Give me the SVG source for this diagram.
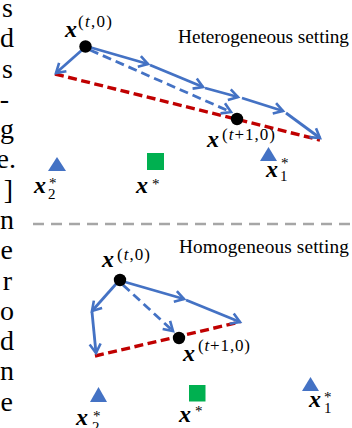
<svg xmlns="http://www.w3.org/2000/svg" width="352" height="428" viewBox="0 0 352 428">
<style>
text{font-family:"Liberation Serif","Times New Roman",serif;fill:#000}
.mx{font-size:24px;font-weight:bold;font-style:italic}
.sup{font-size:17px}
.sm{font-size:15px}
.title{font-size:19.3px}
.margin{font-size:28px;text-anchor:end}
.blue{stroke:#4472C4;stroke-width:2.8;fill:none;stroke-linecap:butt}
.bdash{stroke-dasharray:9 5}
.red{stroke:#C00000;stroke-width:3.4;fill:none;stroke-dasharray:9 4.5}
.tri{fill:#4472C4}
.sq{fill:#00B050}
</style>
<defs>
<marker id="ah" markerUnits="userSpaceOnUse" markerWidth="14" markerHeight="14" refX="11" refY="7" orient="auto">
<path d="M2,1.5 L11,7 L2,12.5" fill="none" stroke="#4472C4" stroke-width="2.6"/>
</marker>
</defs>

<g id="margin-text">
<text class="margin" x="13" y="17">s</text>
<text class="margin" x="14" y="47">d</text>
<text class="margin" x="13" y="78">s</text>
<text class="margin" x="9" y="108">-</text>
<text class="margin" x="14" y="138">g</text>
<text class="margin" x="16" y="168">e.</text>
<text class="margin" x="13" y="199">]</text>
<text class="margin" x="14" y="229">n</text>
<text class="margin" x="13" y="259">e</text>
<text class="margin" x="12" y="290">r</text>
<text class="margin" x="14" y="320">o</text>
<text class="margin" x="14" y="350">d</text>
<text class="margin" x="14" y="380">n</text>
<text class="margin" x="13" y="411">e</text>
</g>

<g id="titles">
<text class="title" x="178" y="43" textLength="171">Heterogeneous setting</text>
<text class="title" x="179" y="253" textLength="170">Homogeneous setting</text>
</g>

<g id="divider">
<line x1="33" y1="224" x2="350" y2="224" stroke="#A6A6A6" stroke-width="2.5" stroke-dasharray="11 7"/>
</g>

<g id="connectors">
<!-- top -->
<line class="red" x1="55" y1="74" x2="320" y2="140"/>
<line class="blue" x1="82" y1="50" x2="56" y2="73" marker-end="url(#ah)"/>
<line class="blue" x1="89" y1="47" x2="148" y2="64" marker-end="url(#ah)"/>
<line class="blue" x1="150" y1="65" x2="203" y2="87" marker-end="url(#ah)"/>
<line class="blue" x1="205" y1="88" x2="238" y2="97" marker-end="url(#ah)"/>
<line class="blue" x1="242" y1="98" x2="283" y2="111" marker-end="url(#ah)"/>
<line class="blue" x1="286" y1="113" x2="320" y2="138" marker-end="url(#ah)"/>
<line class="blue bdash" x1="90" y1="50" x2="231" y2="112" marker-end="url(#ah)"/>
<!-- bottom -->
<line class="red" x1="95" y1="356" x2="240" y2="322"/>
<line class="blue" x1="116" y1="284" x2="92" y2="311" marker-end="url(#ah)"/>
<line class="blue" x1="92" y1="312" x2="96" y2="353" marker-end="url(#ah)"/>
<line class="blue" x1="125" y1="282" x2="184" y2="299" marker-end="url(#ah)"/>
<line class="blue" x1="186" y1="300" x2="240" y2="322" marker-end="url(#ah)"/>
<line class="blue bdash" x1="123" y1="285" x2="173" y2="331" marker-end="url(#ah)"/>
</g>

<g id="top-xt0">
<circle cx="85.5" cy="46.5" r="6.2" fill="#000"/>
<text class="mx" x="65" y="37">x</text>
<text class="sup" x="78" y="27" textLength="34">(<tspan font-style="italic">t</tspan>,0)</text>
</g>
<g id="top-xt1">
<circle cx="237" cy="119" r="6.2" fill="#000"/>
<text class="mx" x="207" y="147">x</text>
<text class="sup" x="222" y="140" textLength="53">(<tspan font-style="italic">t</tspan>+1,0)</text>
</g>
<g id="top-x2">
<polygon class="tri" points="48,171 57,157 66,171"/>
<text class="mx" x="34" y="193">x</text>
<text class="sm" x="49" y="188">*</text>
<text class="sm" x="48" y="199">2</text>
</g>
<g id="top-xstar">
<rect class="sq" x="147" y="153" width="17" height="17"/>
<text class="mx" x="136" y="193">x</text>
<text class="sm" x="152" y="189">*</text>
</g>
<g id="top-x1">
<polygon class="tri" points="260,161 268.5,147 277,161"/>
<text class="mx" x="266" y="177">x</text>
<text class="sm" x="281" y="168">*</text>
<text class="sm" x="280" y="181">1</text>
</g>

<g id="bot-xt0">
<circle cx="120" cy="280" r="6.2" fill="#000"/>
<text class="mx" x="102" y="267">x</text>
<text class="sup" x="117" y="260" textLength="33">(<tspan font-style="italic">t</tspan>,0)</text>
</g>
<g id="bot-xt1">
<circle cx="179" cy="338" r="6.2" fill="#000"/>
<text class="mx" x="183" y="361">x</text>
<text class="sup" x="198" y="351" textLength="52">(<tspan font-style="italic">t</tspan>+1,0)</text>
</g>
<g id="bot-x2">
<polygon class="tri" points="90,402 98.5,387 107,402"/>
<text class="mx" x="76" y="425">x</text>
<text class="sm" x="93" y="421">*</text>
<text class="sm" x="92" y="432">2</text>
</g>
<g id="bot-xstar">
<rect class="sq" x="189" y="385" width="16.5" height="16.5"/>
<text class="mx" x="179" y="422">x</text>
<text class="sm" x="195" y="416">*</text>
</g>
<g id="bot-x1">
<polygon class="tri" points="302,391 310.5,377 319,391"/>
<text class="mx" x="309" y="407">x</text>
<text class="sm" x="324" y="402">*</text>
<text class="sm" x="324" y="413">1</text>
</g>
</svg>
